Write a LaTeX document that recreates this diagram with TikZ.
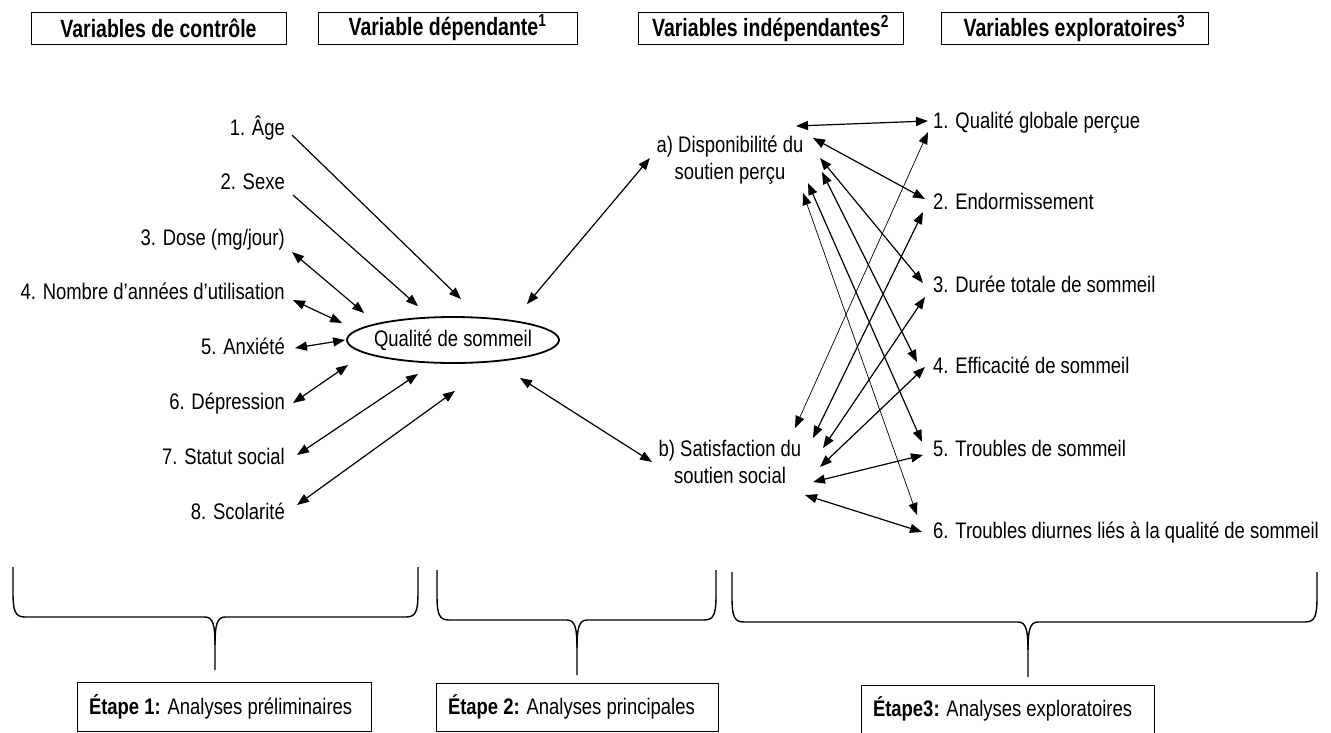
\documentclass[tikz,border=0pt]{standalone}
\usepackage{fontspec}
\setmainfont{Liberation Sans}[FakeStretch=0.82]
\newfontfamily\hdfont{Liberation Sans}[FakeStretch=0.78]
\usetikzlibrary{arrows.meta,shapes.geometric,calc}
\newcommand\labfont{\fontsize{22.5}{27}\selectfont}
\newcommand\hdrfont{\hdfont\bfseries\fontsize{25}{28}\selectfont}
\newcommand\drawbrace[6]{%
  \draw[bracel] (#1,#3) -- (#1,{#4-25}) .. controls (#1,{#4-6}) and ({#1+2},#4) .. ({#1+12},#4)
    -- ({#5-10},#4) .. controls ({#5-2},#4) and (#5,{#4+8}) .. (#5,{#4+28}) -- (#5,#6);
  \draw[bracel] (#2,#3) -- (#2,{#4-25}) .. controls (#2,{#4-6}) and ({#2-2},#4) .. ({#2-12},#4)
    -- ({#5+10},#4) .. controls ({#5+2},#4) and (#5,{#4+8}) .. (#5,{#4+28});
}
\tikzset{
  lab/.style={font=\labfont, inner sep=0pt, text height=16.5pt, text depth=4.5pt},
  twol/.style={font=\labfont, inner sep=0pt, align=center},
  hdr/.style={draw, line width=0.9pt, font=\hdrfont, minimum height=32pt, inner sep=0pt},
  sbox/.style={draw, line width=0.8pt, font=\labfont, inner xsep=12pt, inner ysep=0pt, align=flush left},
  arr/.style={line width=1.2pt, -{Triangle[length=12pt,width=9pt]}},
  darr/.style={line width=1.2pt, {Triangle[length=12pt,width=9pt]}-{Triangle[length=12pt,width=9pt]}},
  thinl/.style={line width=0.7pt},
  bracel/.style={line width=1.4pt}
}
\begin{document}
\begin{tikzpicture}[x=1pt,y=-1pt]
\useasboundingbox (0,0) rectangle (1331,732);
% headers
\node[hdr, minimum width=255pt] (h1) at (158.5,28) {Variables de contrôle};
\node[hdr, minimum width=259pt] (h2) at (447.5,28) {Variable dépendante\textsuperscript{1}};
\node[hdr, minimum width=265pt] (h3) at (770.5,28) {Variables indépendantes\textsuperscript{2}};
\node[hdr, minimum width=267pt] (h4) at (1074.5,28) {Variables exploratoires\textsuperscript{3}};
% left labels
\node[lab, anchor=east] (l1) at (285,129) {1. Âge};
\node[lab, anchor=east] (l2) at (285,183) {2. Sexe};
\node[lab, anchor=east] (l3) at (285,239) {3. Dose (mg/jour)};
\node[lab, anchor=east] (l4) at (285,293) {4. Nombre d’années d’utilisation};
\node[lab, anchor=east] (l5) at (285,348) {5. Anxiété};
\node[lab, anchor=east] (l6) at (285,403) {6. Dépression};
\node[lab, anchor=east] (l7) at (285,458) {7. Statut social};
\node[lab, anchor=east] (l8) at (285,513) {8. Scolarité};
% ellipse
\node[draw, ellipse, line width=1.8pt, minimum width=212pt, minimum height=46pt, inner sep=0pt, font=\labfont] (q) at (453,340) {\makebox[0pt]{Qualité de sommeil}};
% independent
\node[twol] (a) at (730,160) {a) Disponibilité du\\soutien perçu};
\node[twol] (b) at (730,462) {b) Satisfaction du\\soutien social};
% right labels
\node[lab, anchor=west] (r1) at (933,122) {1. Qualité globale perçue};
\node[lab, anchor=west] (r2) at (933,203) {2. Endormissement};
\node[lab, anchor=west] (r3) at (933,286) {3. Durée totale de sommeil};
\node[lab, anchor=west] (r4) at (933,367) {4. Efficacité de sommeil};
\node[lab, anchor=west] (r5) at (933,450) {5. Troubles de sommeil};
\node[lab, anchor=west] (r6) at (933,532) {6. Troubles diurnes liés à la qualité de sommeil};
% left arrows
\draw[arr] ($(l1.east)+(7,6)$) -- ($(q.north)+(8,-17)$);
\draw[arr] ($(l2.east)+(8,12)$) -- ($(q.north)+(-35,-10)$);
\draw[darr] ($(l3.east)+(7,13)$) -- ($(q.west)+(18,-27)$);
\draw[darr] ($(l4.east)+(8,7)$) -- ($(q.west)+(-4,-17)$);
\draw[darr] ($(l5.east)+(10,0)$) -- ($(q.west)+(-1,0)$);
\draw[darr] ($(l6.east)+(8,0)$) -- ($(q.west)+(2,25)$);
\draw[darr] ($(l7.east)+(12,-3)$) -- ($(q.south)+(-35,10)$);
\draw[darr] ($(l8.east)+(12,-8)$) -- ($(q.south)+(2,27)$);
% center arrows
\draw[darr] ($(q.north)+(74,-12)$) -- ($(a.center)+(-80,-2)$);
\draw[darr] ($(q.south)+(67,14)$) -- ($(b.center)+(-78,0)$);
% right arrows
\draw[darr] ($(a.center)+(66,-34)$) -- ($(r1.west)+(-5,-1)$);
\draw[darr] ($(a.center)+(83,-22)$) -- ($(r2.west)+(-8,-4)$);
\draw[darr] ($(a.center)+(90,-2)$) -- ($(r3.west)+(-10,-3)$);
\draw[darr] ($(a.center)+(92,12)$) -- ($(r4.west)+(-16,-5)$);
\draw[darr] ($(a.center)+(78,23)$) -- ($(r5.west)+(-11,-8)$);
\draw[darr,thinl] ($(a.center)+(73,33)$) -- ($(r6.west)+(-16,-17)$);
\draw[darr,thinl] ($(b.center)+(65,-34)$) -- ($(r1.west)+(-5,10)$);
\draw[darr] ($(b.center)+(83,-24)$) -- ($(r2.west)+(-10,9)$);
\draw[darr] ($(b.center)+(93,-14)$) -- ($(r3.west)+(-8,11)$);
\draw[darr] ($(b.center)+(90,5)$) -- ($(r4.west)+(-8,0)$);
\draw[darr] ($(b.center)+(83,20)$) -- ($(r5.west)+(-10,5)$);
\draw[darr] ($(b.center)+(75,33)$) -- ($(r6.west)+(-11,0)$);
% braces
\drawbrace{13}{418}{567}{617}{215}{670}
\drawbrace{437}{716}{570}{620}{577}{675}
\drawbrace{732}{1317}{572}{622}{1028}{677}
% stage boxes
\node[sbox, minimum width=294pt, minimum height=49pt, text width=270pt] (s1) at (224,706.5) {\mbox{\textbf{Étape 1:} Analyses préliminaires}};
\node[sbox, minimum width=282pt, minimum height=48pt, text width=258pt] (s2) at (577,707) {\mbox{\textbf{Étape 2:} Analyses principales}};
\node[sbox, minimum width=293pt, minimum height=48pt, text width=269pt] (s3) at (1007.5,709) {\mbox{\textbf{Étape3:} Analyses exploratoires}};
\end{tikzpicture}
\end{document}
